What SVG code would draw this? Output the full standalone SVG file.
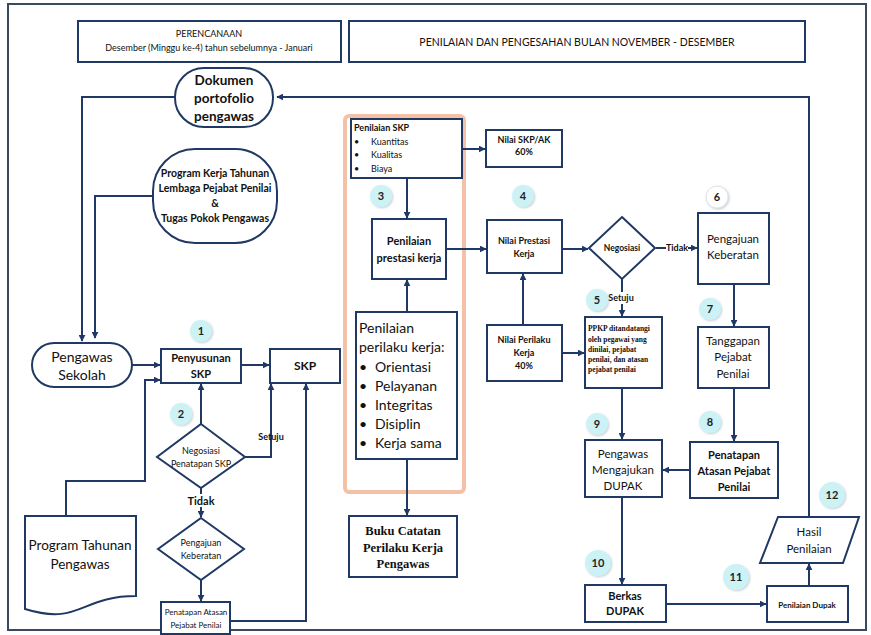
<svg xmlns="http://www.w3.org/2000/svg" width="871" height="635" viewBox="0 0 871 635">
<defs>
<marker id="ar" viewBox="0 0 10 10" refX="9" refY="5" markerWidth="7" markerHeight="7" orient="auto" markerUnits="userSpaceOnUse">
<path d="M0,0 L10,5 L0,10 Z" fill="#1f3864"/>
</marker>
<filter id="sh" x="-20%" y="-20%" width="140%" height="140%">
<feDropShadow dx="1" dy="1" stdDeviation="1" flood-color="#8a9bb0" flood-opacity="0.5"/>
</filter>
</defs>
<style>
.bx{fill:#fff;stroke:#1f3864;stroke-width:2}
.ln{fill:none;stroke:#1f3864;stroke-width:2}
.t{font-family:Lato,"Liberation Sans",sans-serif;fill:#111;text-anchor:middle}
.b{font-weight:bold}
.s{font-family:"Liberation Serif","DejaVu Serif",serif;font-weight:bold;fill:#111}
.bd{fill:#cdf2f5;filter:url(#sh)}
.bt{font-family:Lato,"Liberation Sans",sans-serif;font-weight:bold;font-size:11px;fill:#222;text-anchor:middle}
.lb{font-family:Lato,"Liberation Sans",sans-serif;font-weight:bold;font-size:9px;fill:#111;text-anchor:middle}
</style>
<rect x="0" y="0" width="871" height="635" fill="#fff"/>
<rect x="8" y="4" width="858" height="626" fill="none" stroke="#3a4a5e" stroke-width="2"/>

<g id="hdr1"><rect class="bx" x="78" y="21" width="263" height="41"/>
<text class="t" x="209" y="37" font-size="9">PERENCANAAN</text>
<text class="t" x="209" y="51" font-size="9">Desember (Minggu ke-4) tahun sebelumnya - Januari</text></g>
<g id="hdr2"><rect class="bx" x="349" y="21" width="456" height="41"/>
<text class="t" x="577" y="46" font-size="10.5">PENILAIAN DAN PENGESAHAN BULAN NOVEMBER - DESEMBER</text></g>

<rect x="345" y="116" width="119" height="376" rx="4" fill="none" stroke="#f3b696" stroke-width="4" opacity="0.85"/>

<g id="connectors">
<polyline class="ln" points="809,517 809,97 277,97" marker-end="url(#ar)"/>
<polyline class="ln" points="175,97 82,97 82,341" marker-end="url(#ar)"/>
<polyline class="ln" points="153,196 95,196 95,338" marker-end="url(#ar)"/>
<line class="ln" x1="132" y1="365" x2="160" y2="365" marker-end="url(#ar)"/>
<polyline class="ln" points="66,516 66,481 145,481 145,380 160,380" marker-end="url(#ar)"/>
<line class="ln" x1="241" y1="365" x2="269" y2="365" marker-end="url(#ar)"/>
<line class="ln" x1="201" y1="424" x2="201" y2="384" marker-end="url(#ar)"/>
<polyline class="ln" points="245,457 271,457 271,384" marker-end="url(#ar)"/>
<line class="ln" x1="201" y1="488" x2="201" y2="517" marker-end="url(#ar)"/>
<line class="ln" x1="201" y1="580" x2="201" y2="601" marker-end="url(#ar)"/>
<polyline class="ln" points="230,621 306,621 306,384" marker-end="url(#ar)"/>
<line class="ln" x1="462" y1="149" x2="485" y2="149" marker-end="url(#ar)"/>
<line class="ln" x1="407" y1="178" x2="407" y2="218" marker-end="url(#ar)"/>
<line class="ln" x1="407" y1="312" x2="407" y2="280" marker-end="url(#ar)"/>
<line class="ln" x1="407" y1="459" x2="407" y2="515" marker-end="url(#ar)"/>
<line class="ln" x1="446" y1="249" x2="486" y2="249" marker-end="url(#ar)"/>
<line class="ln" x1="523" y1="325" x2="523" y2="274" marker-end="url(#ar)"/>
<line class="ln" x1="562" y1="249" x2="588" y2="249" marker-end="url(#ar)"/>
<line class="ln" x1="562" y1="353" x2="584" y2="353" marker-end="url(#ar)"/>
<line class="ln" x1="656" y1="248" x2="697" y2="248" marker-end="url(#ar)"/>
<line class="ln" x1="622" y1="279" x2="622" y2="316" marker-end="url(#ar)"/>
<line class="ln" x1="734" y1="284" x2="734" y2="326" marker-end="url(#ar)"/>
<line class="ln" x1="734" y1="388" x2="734" y2="441" marker-end="url(#ar)"/>
<line class="ln" x1="622" y1="388" x2="622" y2="439" marker-end="url(#ar)"/>
<line class="ln" x1="690" y1="470" x2="663" y2="470" marker-end="url(#ar)"/>
<line class="ln" x1="622" y1="497" x2="622" y2="584" marker-end="url(#ar)"/>
<line class="ln" x1="666" y1="604" x2="766" y2="604" marker-end="url(#ar)"/>
<line class="ln" x1="809" y1="586" x2="809" y2="564" marker-end="url(#ar)"/>
<rect x="186" y="494" width="30" height="13" fill="#fff"/>
<text class="t b" x="201" y="505" font-size="11">Tidak</text>
<text class="lb" x="271" y="440">Setuju</text>
<rect x="666" y="241" width="22" height="13" fill="#fff"/>
<text class="lb" x="677" y="251">Tidak</text>
<rect x="608" y="292" width="27" height="12" fill="#fff"/>
<text class="lb" x="621" y="301">Setuju</text>
</g>

<g id="dokumen"><rect class="bx" x="175" y="68" width="98" height="59" rx="29"/>
<text class="t b" x="224" y="85" font-size="13.5">Dokumen</text>
<text class="t b" x="224" y="103" font-size="13.5">portofolio</text>
<text class="t b" x="224" y="121" font-size="13.5">pengawas</text></g>

<g id="progkerja"><rect class="bx" x="153" y="149" width="124" height="94" rx="42"/>
<text class="t b" x="215" y="177" font-size="10.5">Program Kerja Tahunan</text>
<text class="t b" x="215" y="192" font-size="10.5">Lembaga Pejabat Penilai</text>
<text class="t b" x="215" y="207" font-size="10.5">&amp;</text>
<text class="t b" x="215" y="222" font-size="10.5">Tugas Pokok Pengawas</text></g>

<g id="pengawas"><rect class="bx" x="32" y="343" width="100" height="44" rx="22"/>
<text class="t" x="82" y="362" font-size="14">Pengawas</text>
<text class="t" x="82" y="380" font-size="14">Sekolah</text></g>

<g id="penyusunan"><rect class="bx" x="161" y="349" width="80" height="34"/>
<text class="t b" x="201" y="362" font-size="11">Penyusunan</text>
<text class="t b" x="201" y="378" font-size="11">SKP</text></g>

<g id="skp"><rect class="bx" x="270" y="349" width="70" height="34"/>
<text class="t b" x="305" y="370" font-size="12">SKP</text></g>

<g id="nego1"><polygon class="bx" points="201,424 245,457 201,488 157,457"/>
<text class="t" x="201" y="454" font-size="9">Negosiasi</text>
<text class="t" x="201" y="467" font-size="9">Penatapan SKP</text></g>

<g id="keberatan1"><polygon class="bx" points="201,518 244,549 201,580 158,549"/>
<text class="t" x="201" y="546" font-size="9">Pengajuan</text>
<text class="t" x="201" y="559" font-size="9">Keberatan</text></g>

<g id="penatapan1"><rect class="bx" x="161" y="602" width="69" height="32"/>
<text class="t" x="196" y="615" font-size="8">Penatapan Atasan</text>
<text class="t" x="196" y="628" font-size="8">Pejabat Penilai</text></g>

<g id="progtahunan"><path class="bx" d="M25,516 H136 V596 C80,596 80,626 25,609 Z"/>
<text class="t" x="80" y="550" font-size="13.5">Program Tahunan</text>
<text class="t" x="80" y="569" font-size="13.5">Pengawas</text></g>

<g id="penilaianskp"><rect class="bx" x="351" y="119" width="111" height="59"/>
<text font-family="Lato,'Liberation Sans',sans-serif" font-size="9" fill="#111" font-weight="bold">
<tspan x="354" y="131">Penilaian SKP</tspan></text>
<g font-family="Lato,'Liberation Sans',sans-serif" font-size="9" fill="#111">
<text x="354" y="145">•</text><text x="371" y="145">Kuantitas</text>
<text x="354" y="158">•</text><text x="371" y="158">Kualitas</text>
<text x="354" y="172">•</text><text x="371" y="172">Biaya</text></g></g>

<g id="nilaiskp"><rect class="bx" x="486" y="130" width="76" height="37"/>
<text class="t b" x="524" y="143" font-size="9">Nilai SKP/AK</text>
<text class="t b" x="524" y="155" font-size="9">60%</text></g>

<g id="prestasi"><rect class="bx" x="372" y="219" width="74" height="60"/>
<text class="t b" x="409" y="245" font-size="11">Penilaian</text>
<text class="t b" x="409" y="262" font-size="11">prestasi kerja</text></g>

<g id="nilaiprestasi"><rect class="bx" x="487" y="220" width="75" height="53"/>
<text class="t b" x="524" y="244" font-size="9">Nilai Prestasi</text>
<text class="t b" x="524" y="257" font-size="9">Kerja</text></g>

<g id="perilaku"><rect class="bx" x="356" y="312" width="101" height="147"/>
<g font-family="Lato,'Liberation Sans',sans-serif" font-size="14" fill="#111">
<text x="359" y="333">Penilaian</text>
<text x="359" y="352">perilaku kerja:</text>
<text x="359" y="372">•</text><text x="375" y="372">Orientasi</text>
<text x="359" y="391">•</text><text x="375" y="391">Pelayanan</text>
<text x="359" y="410">•</text><text x="375" y="410">Integritas</text>
<text x="359" y="429">•</text><text x="375" y="429">Disiplin</text>
<text x="359" y="448">•</text><text x="375" y="448">Kerja sama</text></g></g>

<g id="buku"><rect class="bx" x="349" y="516" width="108" height="61"/>
<text class="s" x="403" y="535" font-size="12.5" text-anchor="middle">Buku Catatan</text>
<text class="s" x="403" y="552" font-size="12.5" text-anchor="middle">Perilaku Kerja</text>
<text class="s" x="403" y="568" font-size="12.5" text-anchor="middle">Pengawas</text></g>

<g id="nilaiperilaku"><rect class="bx" x="487" y="325" width="75" height="56"/>
<text class="t b" x="524" y="343" font-size="9">Nilai Perilaku</text>
<text class="t b" x="524" y="356" font-size="9">Kerja</text>
<text class="t b" x="524" y="369" font-size="9">40%</text></g>

<g id="nego2"><polygon class="bx" points="622,217 655,248 622,279 589,248"/>
<text class="t b" x="622" y="251" font-size="8.5">Negosiasi</text></g>

<g id="ppkp"><rect class="bx" x="585" y="317" width="77" height="71"/>
<g class="s" font-size="7.5">
<text x="588" y="331">PPKP ditandatangi</text>
<text x="588" y="342">oleh pegawai yang</text>
<text x="588" y="352">dinilai, pejabat</text>
<text x="588" y="362">penilai, dan atasan</text>
<text x="588" y="372">pejabat penilai</text></g></g>

<g id="keberatan2"><rect class="bx" x="698" y="213" width="71" height="71"/>
<text class="t" x="733" y="243" font-size="11.5">Pengajuan</text>
<text class="t" x="733" y="259" font-size="11.5">Keberatan</text></g>

<g id="tanggapan"><rect class="bx" x="698" y="327" width="71" height="61"/>
<text class="t" x="733" y="345" font-size="11.5">Tanggapan</text>
<text class="t" x="733" y="361" font-size="11.5">Pejabat</text>
<text class="t" x="733" y="378" font-size="11.5">Penilai</text></g>

<g id="penatapan2"><rect class="bx" x="690" y="442" width="88" height="56"/>
<text class="t b" x="734" y="459" font-size="11">Penatapan</text>
<text class="t b" x="734" y="475" font-size="11">Atasan Pejabat</text>
<text class="t b" x="734" y="491" font-size="11">Penilai</text></g>

<g id="mengajukan"><rect class="bx" x="585" y="440" width="77" height="57"/>
<text class="t" x="623" y="458" font-size="11.5">Pengawas</text>
<text class="t" x="623" y="474" font-size="11.5">Mengajukan</text>
<text class="t" x="623" y="490" font-size="11.5">DUPAK</text></g>

<g id="berkas"><rect class="bx" x="585" y="585" width="81" height="37"/>
<text class="t b" x="625" y="600" font-size="11">Berkas</text>
<text class="t b" x="625" y="615" font-size="11">DUPAK</text></g>

<g id="penilaiandupak"><rect class="bx" x="767" y="586" width="81" height="36"/>
<text class="t b" x="807" y="608" font-size="8">Penilaian Dupak</text></g>

<g id="hasil"><polygon class="bx" points="778,517 859,517 843,563 760,563"/>
<text class="t" x="809" y="536" font-size="11.5">Hasil</text>
<text class="t" x="809" y="553" font-size="11.5">Penilaian</text></g>

<g id="badges">
<circle class="bd" cx="201" cy="331" r="11"/><text class="bt" x="201" y="335">1</text>
<circle class="bd" cx="181" cy="414" r="11"/><text class="bt" x="181" y="418">2</text>
<circle class="bd" cx="381" cy="196" r="11"/><text class="bt" x="381" y="200">3</text>
<circle class="bd" cx="523" cy="196" r="11"/><text class="bt" x="523" y="200">4</text>
<circle class="bd" cx="597" cy="300" r="11"/><text class="bt" x="597" y="304">5</text>
<circle cx="717" cy="197" r="11" fill="#fff" stroke="#e2e2e2" stroke-width="1" filter="url(#sh)"/><text class="bt" x="717" y="201">6</text>
<circle class="bd" cx="710" cy="309" r="11"/><text class="bt" x="710" y="313">7</text>
<circle class="bd" cx="710" cy="422" r="11"/><text class="bt" x="710" y="426">8</text>
<circle class="bd" cx="597" cy="424" r="11"/><text class="bt" x="597" y="428">9</text>
<circle class="bd" cx="598" cy="563" r="13"/><text class="bt" x="598" y="567">10</text>
<circle class="bd" cx="736" cy="577" r="13"/><text class="bt" x="736" y="581">11</text>
<circle class="bd" cx="832" cy="495" r="13"/><text class="bt" x="832" y="499">12</text>
</g>
</svg>
